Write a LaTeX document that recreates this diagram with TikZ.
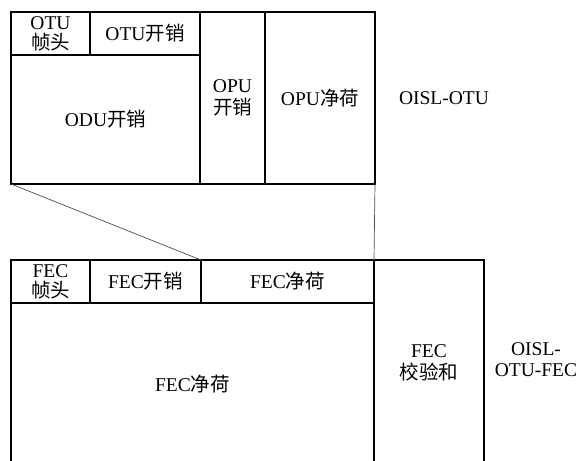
\documentclass[tikz,border=0pt]{standalone}
\usepackage{fontspec}
\setmainfont{Liberation Serif}
\newfontfamily\cjk{Noto Sans CJK SC}
\begin{document}
\begin{tikzpicture}[x=1pt,y=-1pt,
  cell/.style={draw=black, line width=1.6pt, inner sep=0pt, outer sep=0pt, align=center,
    anchor=north west, font=\fontsize{19.5}{20}\selectfont},
  lbl/.style={inner sep=0pt, align=center, font=\fontsize{19.5}{21}\selectfont},
  link/.style={draw=black!70, line width=0.7pt}]
\useasboundingbox (0,0) rectangle (579,461);
% top frame
\node[cell, minimum width=79pt, minimum height=43pt] (otuhdr) at (11,12) {OTU\\{\cjk 帧头}};
\node[cell, minimum width=110pt, minimum height=43pt] (otuoh) at (90,12) {OTU{\cjk 开销}};
\node[cell, minimum width=189pt, minimum height=129pt] (oduoh) at (11,55) {ODU{\cjk 开销}};
\node[cell, minimum width=65pt, minimum height=172pt] (opuoh) at (200,12) {OPU\\[2pt]{\cjk 开销}};
\node[cell, minimum width=110pt, minimum height=172pt] (opupl) at (265,12) {OPU{\cjk 净荷}};
\node[lbl] (oislotu) at (444,98) {OISL-OTU};
% bottom frame
\node[cell, minimum width=79pt, minimum height=43pt] (fechdr) at (11,260) {FEC\\{\cjk 帧头}};
\node[cell, minimum width=111pt, minimum height=43pt] (fecoh) at (90,260) {FEC{\cjk 开销}};
\node[cell, minimum width=173pt, minimum height=43pt] (fecpl) at (201,260) {FEC{\cjk 净荷}};
\node[cell, minimum width=363pt, minimum height=162pt] (fecbig) at (11,303) {FEC{\cjk 净荷}};
\node[cell, minimum width=110pt, minimum height=205pt] (feccs) at (374,260) {FEC\\[2pt]{\cjk 校验和}};
\node[lbl] (oislfec) at (536,360) {OISL-\\OTU-FEC};
% links
\draw[link] (oduoh.south west) -- (fecoh.north east);
\draw[link] (opupl.south east) -- (fecpl.north east);
\end{tikzpicture}
\end{document}
